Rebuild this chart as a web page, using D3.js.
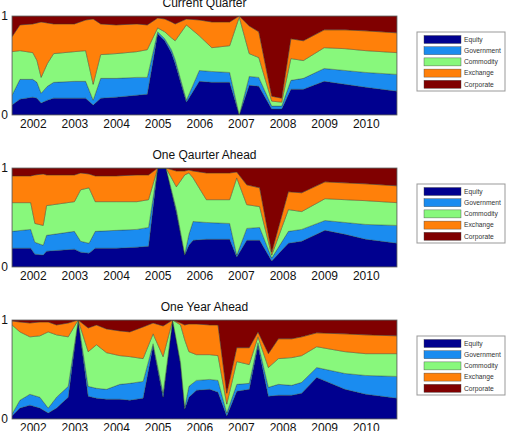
<!DOCTYPE html>
<html><head><meta charset="utf-8">
<script src="https://cdn.jsdelivr.net/npm/d3@7"></script>
<style>body{margin:0;background:#fff}svg{display:block}</style>
</head><body>
<svg id="chart" width="510" height="431"></svg>
<script>
const seriesNames = ["Equity","Government","Commodity","Exchange","Corporate"];
const seriesColors = ["#00008f","#1a8cf0","#88f87c","#ff800a","#800000"];
const yearTicks = [2002,2003,2004,2005,2006,2007,2008,2009,2010];
const valueTicks = [0,1];
const panelTitles = ["Current Quarter","One Qaurter Ahead","One Year Ahead"];

// Current Quarter
const cqDates = [2001.50,2001.69,2002.00,2002.10,2002.20,2002.35,2002.50,2003.00,2003.27,2003.45,2003.63,2004.00,2004.50,2004.75,2005.00,2005.17,2005.33,2005.42,2005.69,2006.00,2006.30,2006.73,2006.96,2007.20,2007.43,2007.74,2007.98,2008.20,2008.50,2009.00,2009.50,2010.00,2010.75];
const cqEquity = [.10,.16,.18,.17,.12,.15,.17,.17,.17,.10,.17,.18,.20,.21,.82,.75,.63,.52,.13,.34,.33,.33,0,.30,.29,.06,.06,.26,.26,.34,.31,.28,.24];
const cqGovernment = [.10,.20,.18,.16,.10,.14,.16,.17,.17,.05,.20,.19,.18,.17,.02,.02,.03,.04,.02,.11,.11,.10,0,.09,.09,.03,.03,.09,.11,.13,.14,.15,.17];
const cqCommodity = [.44,.29,.27,.22,.16,.23,.29,.30,.31,.16,.24,.25,.26,.28,.04,.07,.12,.19,.76,.35,.24,.27,.99,.23,.20,.05,.04,.22,.18,.21,.22,.22,.22];
const cqExchange = [.15,.26,.29,.38,.56,.41,.30,.28,.31,.66,.31,.29,.28,.25,.10,.13,.16,.17,.06,.16,.26,.24,.01,.28,.26,.05,.04,.20,.20,.18,.19,.20,.20];
const cqCorporate = [.21,.09,.08,.07,.06,.07,.08,.08,.04,.03,.08,.09,.08,.09,.02,.03,.06,.08,.03,.04,.06,.06,0,.10,.16,.81,.83,.23,.25,.14,.14,.15,.17];

// One Quarter Ahead
const oqDates = [2001.50,2001.95,2002.05,2002.25,2002.33,2003.00,2003.15,2003.35,2003.50,2004.00,2004.50,2004.78,2005.00,2005.20,2005.45,2005.65,2005.75,2005.85,2006.17,2006.73,2006.90,2007.14,2007.45,2007.74,2008.14,2008.46,2009.02,2009.50,2010.00,2010.75];
const oqEquity = [.19,.19,.13,.12,.16,.18,.15,.14,.19,.19,.20,.21,1,1,.55,.12,.22,.27,.28,.28,.10,.27,.27,.06,.24,.26,.37,.33,.28,.24];
const oqGovernment = [.17,.19,.12,.10,.16,.18,.11,.10,.17,.18,.18,.19,0,0,.03,.01,.11,.19,.17,.16,.02,.12,.13,.03,.12,.12,.10,.12,.15,.18];
const oqCommodity = [.29,.27,.19,.20,.30,.30,.52,.56,.30,.29,.28,.28,0,0,.23,.80,.62,.44,.23,.24,.78,.24,.21,.03,.22,.18,.22,.23,.24,.23];
const oqExchange = [.27,.27,.49,.52,.31,.27,.17,.14,.26,.26,.27,.25,0,0,.16,.04,.03,.07,.27,.27,.06,.20,.19,.03,.18,.19,.17,.17,.17,.17];
const oqCorporate = [.08,.08,.07,.06,.07,.07,.05,.06,.08,.08,.07,.07,0,0,.03,.03,.02,.03,.05,.05,.04,.17,.20,.85,.24,.25,.14,.15,.16,.18];

// One Year Ahead
const oyDates = [2001.50,2001.69,2001.93,2002.17,2002.37,2002.57,2002.85,2003.09,2003.33,2003.53,2003.77,2004.09,2004.33,2004.65,2004.89,2005.13,2005.36,2005.55,2005.65,2005.75,2005.93,2006.25,2006.45,2006.66,2006.90,2007.20,2007.41,2007.66,2007.90,2008.22,2008.46,2008.82,2009.50,2010.00,2010.75];
const oyEquity = [.03,.11,.14,.11,.06,.11,.22,1,.23,.21,.20,.20,.19,.21,.74,.22,1,.55,.10,.22,.29,.30,.27,.03,.28,.30,.74,.23,.24,.24,.26,.42,.30,.25,.21];
const oyGovernment = [.02,.08,.11,.11,.05,.11,.11,0,.10,.10,.10,.15,.17,.17,.02,.04,0,.02,.02,.11,.10,.10,.12,.03,.07,.06,.03,.09,.11,.10,.11,.10,.16,.19,.22];
const oyCommodity = [.90,.69,.58,.62,.77,.63,.50,0,.35,.44,.37,.29,.27,.23,.10,.37,0,.38,.68,.35,.26,.25,.25,.09,.23,.19,.06,.20,.26,.28,.27,.21,.22,.22,.23];
const oyExchange = [.04,.10,.14,.14,.10,.10,.14,0,.24,.20,.24,.25,.25,.32,.11,.31,0,.02,.15,.28,.31,.30,.31,.11,.14,.17,.05,.14,.20,.19,.19,.14,.18,.19,.18];
const oyCorporate = [.01,.02,.03,.02,.02,.05,.03,0,.08,.05,.09,.11,.12,.07,.03,.06,0,.03,.05,.04,.04,.05,.05,.74,.28,.28,.12,.34,.19,.19,.17,.13,.14,.15,.16];

const panelsData = [
  [cqDates,[cqEquity,cqGovernment,cqCommodity,cqExchange,cqCorporate]],
  [oqDates,[oqEquity,oqGovernment,oqCommodity,oqExchange,oqCorporate]],
  [oyDates,[oyEquity,oyGovernment,oyCommodity,oyExchange,oyCorporate]]
];

const svg = d3.select("#chart");
const font = "'Liberation Sans', Arial, Helvetica, sans-serif";
const left = 12, right = 397;
const tops = [16, 168, 320];
const plotH = 99;

const x = d3.scaleLinear().domain([2001.5, 2010.75]).range([left, right]);

panelsData.forEach(([dates, vals], p) => {
  const top = tops[p];
  const y = d3.scaleLinear().domain([0,1]).range([top+plotH, top]);
  const rows = dates.map((d,i) => {
    const r = {date:d};
    seriesNames.forEach((s,k) => r[s] = vals[k][i]);
    return r;
  });
  const stack = d3.stack().keys(seriesNames)(rows);
  const area = d3.area()
    .x(d => x(d.data.date))
    .y0(d => y(d[0]))
    .y1(d => y(Math.min(1,d[1])));
  const clipId = "clip"+p;
  svg.append("clipPath").attr("id",clipId).append("rect")
    .attr("x",left).attr("y",top).attr("width",right-left).attr("height",plotH);
  const g = svg.append("g").attr("clip-path",`url(#${clipId})`);
  g.selectAll("path.layer").data(stack).join("path")
    .attr("class","layer")
    .attr("d", area)
    .attr("fill",(d,i)=>seriesColors[i])
    .attr("stroke","#2a3a2a")
    .attr("stroke-width",0.5)
    .attr("stroke-opacity",0.7);
  svg.append("rect").attr("x",left).attr("y",top).attr("width",right-left).attr("height",plotH)
    .attr("fill","none").attr("stroke","#666").attr("stroke-width",0.8);

  const xa = svg.append("g").attr("transform",`translate(0,${top+plotH})`)
    .call(d3.axisBottom(x).tickValues(yearTicks).tickFormat(d3.format("d")).tickSize(0).tickPadding(4));
  xa.select(".domain").remove();
  xa.selectAll("text").attr("font-family",font).attr("font-size",12).attr("fill","#111");
  const ya = svg.append("g").attr("transform",`translate(${left},0)`)
    .call(d3.axisLeft(y).tickValues(valueTicks).tickFormat(d3.format("d")).tickSize(0).tickPadding(4));
  ya.select(".domain").remove();
  ya.selectAll("text").attr("font-family",font).attr("font-size",12).attr("fill","#111");

  svg.append("text").attr("x",(left+right)/2).attr("y",top-9.5)
    .attr("text-anchor","middle").attr("font-family",font).attr("font-size",12).attr("fill","#111")
    .text(panelTitles[p]);

  const lg = svg.append("g").attr("transform",`translate(417,${top+16})`);
  lg.append("rect").attr("x",0).attr("y",0).attr("width",88).attr("height",59)
    .attr("fill","#fff").attr("stroke","#999").attr("stroke-width",1);
  seriesNames.forEach((s,k)=>{
    const cy = 7.5 + k*11.2;
    lg.append("rect").attr("x",7).attr("y",cy-4).attr("width",37).attr("height",8)
      .attr("fill",seriesColors[k]).attr("stroke","#444").attr("stroke-width",0.4);
    lg.append("text").attr("x",47).attr("y",cy).attr("dy","0.35em")
      .attr("font-family",font).attr("font-size",6.7).attr("fill","#333").text(s);
  });
});
</script>
</body></html>
